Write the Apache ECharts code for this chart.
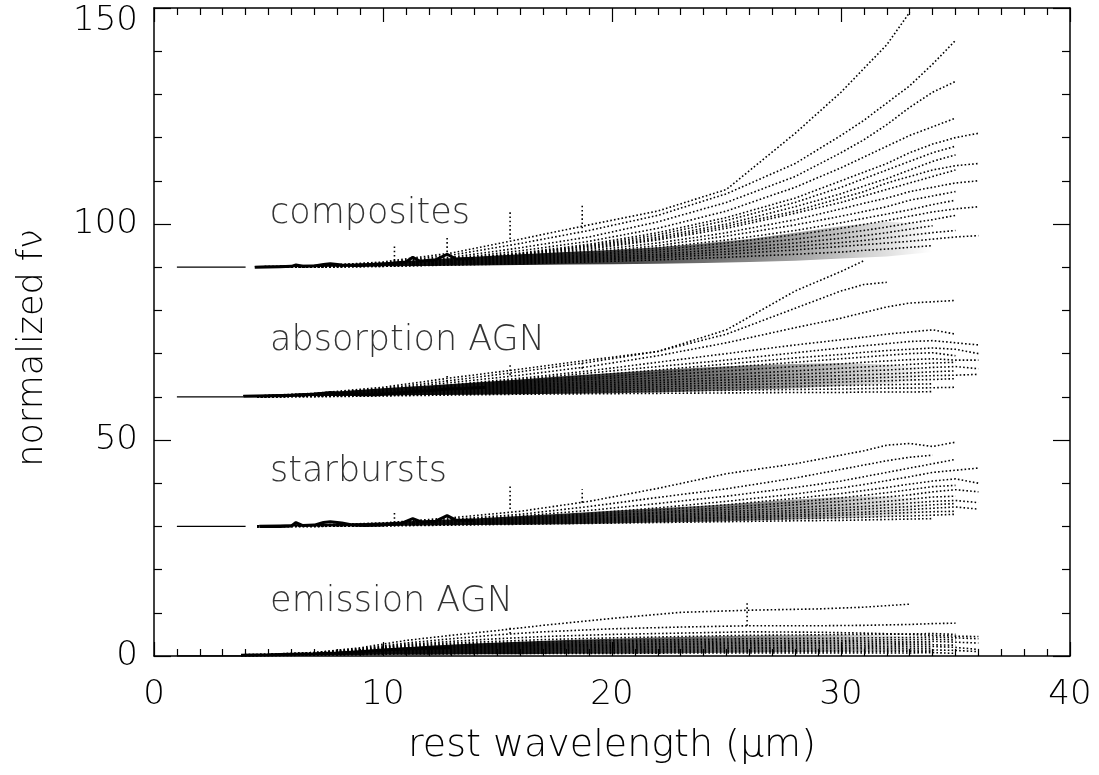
<!DOCTYPE html>
<html><head><meta charset="utf-8">
<script src="https://cdn.jsdelivr.net/npm/echarts@6/dist/echarts.min.js"></script>
<style>html,body{margin:0;padding:0;background:#fff}#c{width:1099px;height:775px}</style>
</head><body><div id="c"></div>
<script>
// ---- tick labels / axes ----
const xTicks = [0, 10, 20, 30, 40];
const yTicks = [0, 50, 100, 150];

// ---- group labels ----
const groupNames = ['composites', 'absorption AGN', 'starbursts', 'emission AGN'];
const groupLabelX = [5.07, 5.07, 5.07, 5.07];
const groupLabelY = [102.3, 72.9, 42.6, 12.6];

// ---- reference offset lines (1 µm to start of spectra) ----
const refLevel = [90, 60, 30, 0];
const refStart = [1.0, 1.0, 1.0, 1.0];
const refEnd = [4.0, 3.9, 4.0, 3.8];

// ---- composites (offset 90) ----
const compWave = [4.5, 7, 10, 13, 16, 19, 22, 25, 28, 30, 31, 32, 33, 34, 35, 36];
const comp = [
  [90.1, 90.3, 91.2, 93.3, 96.5, 99.8, 103.0, 108.0, 121.0, 130.5, 136.0, 141.5, 149.0, null, null, null],
  [90.1, 90.3, 91.0, 92.8, 95.5, 98.5, 102.0, 107.0, 114.0, 120.5, 124.0, 128.0, 132.0, 137.0, 142.5, null],
  [90.0, 90.2, 90.9, 92.3, 94.5, 97.0, 100.5, 105.0, 111.0, 116.5, 119.5, 123.0, 127.0, 130.5, 133.0, null],
  [90.0, 90.2, 90.8, 92.0, 93.8, 96.0, 99.0, 103.0, 108.5, 113.0, 115.5, 118.0, 120.5, 122.5, 124.5, null],
  [90.0, 90.2, 90.7, 91.8, 93.3, 95.3, 98.0, 101.5, 106.0, 110.0, 112.0, 114.0, 116.5, 118.5, 120.0, 121.0],
  [90.0, 90.2, 90.7, 91.7, 93.1, 95.0, 97.5, 100.8, 105.0, 108.5, 110.5, 112.5, 114.5, 116.5, 118.0, null],
  [90.0, 90.2, 90.6, 91.6, 93.0, 94.8, 97.0, 100.0, 104.0, 107.0, 108.8, 110.5, 112.5, 114.5, 116.0, null],
  [90.0, 90.1, 90.6, 91.5, 92.8, 94.5, 96.6, 99.5, 103.0, 106.0, 107.5, 109.5, 111.0, 112.5, 113.5, 114.0],
  [90.0, 90.1, 90.6, 91.4, 92.6, 94.2, 96.3, 99.0, 102.5, 105.0, 106.5, 108.0, 109.5, 111.0, 112.5, null],
  [90.0, 90.1, 90.5, 91.3, 92.4, 93.8, 95.6, 98.0, 101.0, 103.5, 104.8, 106.0, 107.5, 108.5, 109.5, 110.0],
  [90.0, 90.1, 90.5, 91.2, 92.2, 93.4, 95.0, 97.2, 99.8, 101.8, 102.9, 104.0, 105.5, 106.5, 107.5, null],
  [90.0, 90.1, 90.4, 91.1, 92.0, 93.0, 94.5, 96.3, 98.5, 100.3, 101.3, 102.3, 103.3, 104.5, 105.5, null],
  [90.0, 90.1, 90.4, 91.0, 91.8, 92.7, 94.0, 95.6, 97.5, 99.0, 99.9, 100.8, 101.8, 102.8, 103.5, 104.0],
  [90.0, 90.1, 90.3, 90.9, 91.6, 92.4, 93.5, 94.9, 96.5, 97.8, 98.5, 99.3, 100.2, 101.0, 102.0, null],
  [90.0, 90.1, 90.3, 90.8, 91.4, 92.1, 93.0, 94.2, 95.6, 96.7, 97.3, 98.0, 98.8, 99.6, null, null],
  [90.0, 90.0, 90.3, 90.7, 91.2, 91.8, 92.6, 93.6, 94.8, 95.7, 96.2, 96.8, 97.4, 98.0, 98.5, null],
  [90.0, 90.0, 90.2, 90.6, 91.0, 91.5, 92.2, 93.0, 94.0, 94.8, 95.2, 95.6, 96.0, 96.5, 97.0, 97.3],
  [90.0, 90.0, 90.2, 90.5, 90.8, 91.2, 91.7, 92.3, 93.0, 93.5, 93.9, 94.2, 94.6, 95.0, null, null]
];
const compCoreWave = [4.4, 5.5, 6.0, 6.2, 6.5, 7.0, 7.4, 7.7, 8.2, 8.8, 9.5, 10.2, 11.0, 11.3, 11.6, 12.3, 12.8, 13.2, 14.0];
const compCore = [90.0, 90.1, 90.2, 90.5, 90.2, 90.3, 90.6, 90.8, 90.5, 90.4, 90.5, 90.8, 91.2, 92.3, 91.4, 91.7, 93.0, 91.9, 92.0];
const compBandWave = [4.4, 6, 8, 10, 12, 14, 16, 18, 20, 22, 24, 26, 28, 30, 32, 34];
const compBandLow = [90.0, 90.0, 90.1, 90.2, 90.3, 90.4, 90.5, 90.6, 90.7, 90.8, 91.0, 91.2, 91.5, 92.0, 92.5, 93.5];
const compBandHigh = [90.3, 90.5, 90.7, 91.1, 91.8, 92.4, 93.0, 93.5, 94.0, 94.6, 95.5, 96.5, 98.0, 99.5, 100.5, 100.0];

// ---- absorption AGN (offset 60) ----
const absWave = [4.5, 7, 10, 13, 16, 19, 22, 25, 28, 30, 31, 32, 33, 34, 35, 36];
const absAGN = [
  [60.2, 60.8, 62.2, 64.4, 66.4, 68.5, 70.5, 75.5, 84.5, 89.0, 91.5, null, null, null, null, null],
  [60.2, 60.7, 61.9, 63.8, 65.8, 68.0, 70.5, 74.5, 80.5, 84.5, 86.0, 86.5, null, null, null, null],
  [60.1, 60.6, 61.7, 63.3, 65.0, 67.0, 69.5, 72.5, 76.0, 78.2, 79.5, 80.8, 81.7, 82.0, 82.3, null],
  [60.1, 60.5, 61.4, 62.8, 64.3, 66.0, 68.0, 70.0, 72.0, 73.2, 73.8, 74.5, 75.0, 75.5, 74.5, null],
  [60.1, 60.5, 61.3, 62.6, 64.0, 65.5, 67.0, 68.5, 70.2, 71.3, 71.8, 72.3, 72.8, 73.0, 72.5, 72.0],
  [60.1, 60.4, 61.2, 62.4, 63.6, 64.9, 66.2, 67.6, 69.0, 69.8, 70.3, 70.7, 71.0, 71.3, 71.0, 70.0],
  [60.0, 60.4, 61.1, 62.2, 63.3, 64.4, 65.6, 66.8, 68.0, 68.8, 69.2, 69.6, 70.0, 70.2, 69.5, null],
  [60.0, 60.3, 61.0, 62.0, 63.0, 64.0, 65.0, 66.0, 67.0, 67.6, 68.0, 68.3, 68.6, 68.8, 68.5, 68.5],
  [60.0, 60.3, 60.9, 61.8, 62.7, 63.5, 64.4, 65.2, 66.0, 66.6, 66.9, 67.2, 67.5, 67.8, 68.0, null],
  [60.0, 60.3, 60.8, 61.6, 62.4, 63.1, 63.8, 64.5, 65.2, 65.7, 66.0, 66.2, 66.5, 66.8, 67.0, 66.5],
  [60.0, 60.2, 60.7, 61.4, 62.1, 62.7, 63.3, 63.9, 64.5, 64.9, 65.1, 65.3, 65.5, 65.8, 66.0, null],
  [60.0, 60.2, 60.6, 61.2, 61.8, 62.3, 62.8, 63.3, 63.8, 64.1, 64.3, 64.5, 64.7, 64.9, 65.0, 65.2],
  [60.0, 60.2, 60.5, 61.0, 61.5, 61.9, 62.3, 62.7, 63.1, 63.4, 63.6, 63.7, 63.9, 64.0, 64.2, null],
  [60.0, 60.1, 60.4, 60.8, 61.2, 61.5, 61.8, 62.1, 62.4, 62.6, 62.7, 62.8, 62.9, 63.0, null, null],
  [60.0, 60.1, 60.3, 60.6, 60.9, 61.1, 61.3, 61.5, 61.7, 61.8, 61.9, 62.0, 62.0, 62.1, 62.2, null],
  [60.0, 60.0, 60.2, 60.4, 60.6, 60.7, 60.8, 60.9, 61.0, 61.0, 61.1, 61.1, 61.1, 61.2, null, null]
];
const absCoreWave = [3.9, 5.0, 6.0, 7.0, 7.7, 8.3, 9.0, 9.7, 10.5, 11.3, 12.0, 12.8, 13.5, 14.5];
const absCore = [60.1, 60.2, 60.3, 60.6, 61.0, 60.7, 60.5, 60.5, 60.8, 61.2, 61.4, 61.8, 61.9, 62.2];
const absBandWave = [3.9, 6, 8, 10, 12, 14, 16, 18, 20, 22, 24, 26, 28, 30, 32, 34];
const absBandLow = [60.0, 60.1, 60.2, 60.3, 60.4, 60.5, 60.6, 60.7, 60.8, 61.0, 61.3, 61.6, 62.0, 62.5, 63.0, 64.0];
const absBandHigh = [60.4, 60.7, 61.2, 62.0, 62.6, 63.3, 64.0, 64.8, 65.5, 66.2, 66.8, 67.3, 67.6, 67.8, 67.5, 66.5];

// ---- starbursts (offset 30) ----
const sbWave = [4.5, 7, 10, 13, 16, 19, 22, 25, 28, 30, 31, 32, 33, 34, 35, 36];
const starbursts = [
  [30.0, 30.3, 30.8, 32.0, 33.5, 35.8, 38.8, 42.2, 44.5, 46.5, 47.5, 48.8, 49.2, 48.5, 49.5, null],
  [30.0, 30.3, 30.7, 31.6, 32.8, 34.6, 36.7, 38.7, 41.2, 43.2, 44.2, 45.2, 46.0, 46.5, null, null],
  [30.0, 30.2, 30.6, 31.4, 32.4, 33.7, 35.3, 37.0, 39.0, 40.5, 41.5, 42.5, 43.5, 44.5, 45.5, null],
  [30.0, 30.2, 30.5, 31.2, 32.0, 33.0, 34.3, 35.8, 37.5, 38.9, 39.7, 40.6, 41.5, 42.5, 43.0, 43.5],
  [30.0, 30.2, 30.5, 31.1, 31.8, 32.7, 33.8, 35.0, 36.5, 37.6, 38.3, 39.0, 39.8, 40.5, 41.0, 40.0],
  [30.0, 30.2, 30.4, 31.0, 31.6, 32.4, 33.3, 34.4, 35.6, 36.6, 37.2, 37.8, 38.5, 39.2, 39.5, null],
  [30.0, 30.1, 30.4, 30.9, 31.5, 32.2, 33.0, 33.9, 35.0, 35.8, 36.3, 36.8, 37.3, 38.0, 38.5, 38.0],
  [30.0, 30.1, 30.4, 30.8, 31.3, 31.9, 32.6, 33.4, 34.3, 35.0, 35.4, 35.8, 36.3, 36.8, 37.0, null],
  [30.0, 30.1, 30.3, 30.7, 31.2, 31.7, 32.3, 33.0, 33.7, 34.3, 34.6, 35.0, 35.4, 35.8, 36.0, 35.5],
  [30.0, 30.1, 30.3, 30.6, 31.0, 31.5, 32.0, 32.6, 33.2, 33.7, 34.0, 34.3, 34.6, 35.0, 35.3, null],
  [30.0, 30.1, 30.3, 30.6, 30.9, 31.3, 31.7, 32.2, 32.7, 33.1, 33.3, 33.6, 33.9, 34.2, 34.5, 34.0],
  [30.0, 30.0, 30.2, 30.5, 30.8, 31.1, 31.5, 31.9, 32.3, 32.6, 32.8, 33.0, 33.2, 33.4, 33.5, null],
  [30.0, 30.0, 30.2, 30.4, 30.6, 30.9, 31.2, 31.5, 31.8, 32.0, 32.1, 32.3, 32.4, 32.6, 32.8, null],
  [30.0, 30.0, 30.1, 30.3, 30.5, 30.7, 30.9, 31.1, 31.3, 31.4, 31.5, 31.6, 31.7, 31.8, null, null]
];
const sbCoreWave = [4.6, 5.5, 6.0, 6.2, 6.5, 7.0, 7.4, 7.7, 8.2, 8.6, 9.2, 10.0, 10.8, 11.3, 11.7, 12.3, 12.8, 13.2, 14.0];
const sbCore = [30.0, 30.0, 30.1, 30.9, 30.2, 30.3, 30.9, 31.1, 30.8, 30.4, 30.2, 30.3, 30.7, 31.8, 31.0, 31.2, 32.5, 31.4, 31.4];
const sbBandWave = [4.6, 8, 10, 12, 14, 16, 18, 20, 22, 24, 26, 28, 30, 32, 34];
const sbBandLow = [30.0, 30.0, 30.1, 30.2, 30.3, 30.4, 30.5, 30.7, 30.9, 31.1, 31.3, 31.6, 31.9, 32.2, 33.0];
const sbBandHigh = [30.4, 30.6, 30.9, 31.4, 31.8, 32.4, 33.0, 33.6, 34.2, 34.8, 35.5, 36.2, 36.8, 37.0, 36.0];

// ---- emission AGN (offset 0) ----
const emWave = [3.8, 5, 7, 9, 11, 13, 15, 17, 20, 23, 26, 29, 31, 33, 34, 35, 36];
const emAGN = [
  [0.3, 0.4, 0.8, 1.9, 3.6, 4.8, 5.9, 7.1, 8.7, 10.1, 10.6, 10.9, 11.3, 12.0, null, null, null],
  [0.3, 0.4, 0.8, 1.7, 3.0, 4.0, 4.9, 5.6, 6.3, 6.7, 7.0, 7.0, 7.1, 7.3, 7.5, 7.6, null],
  [0.2, 0.3, 0.7, 1.5, 2.7, 3.4, 4.0, 4.5, 5.0, 5.3, 5.6, 5.5, 5.3, 5.0, 4.8, 4.6, 4.5],
  [0.2, 0.3, 0.6, 1.4, 2.5, 3.0, 3.4, 3.8, 4.2, 4.5, 4.8, 4.9, 5.0, 5.1, 5.2, 5.0, null],
  [0.2, 0.3, 0.6, 1.3, 2.3, 2.7, 3.0, 3.3, 3.6, 3.8, 4.0, 4.1, 4.2, 4.3, 4.4, 4.2, 4.0],
  [0.2, 0.3, 0.5, 1.2, 2.1, 2.4, 2.7, 2.9, 3.2, 3.4, 3.5, 3.6, 3.7, 3.8, 3.9, 3.7, null],
  [0.2, 0.3, 0.5, 1.1, 1.9, 2.2, 2.4, 2.6, 2.8, 3.0, 3.1, 3.2, 3.3, 3.3, 3.4, 3.2, 3.0],
  [0.2, 0.2, 0.5, 1.0, 1.7, 2.0, 2.2, 2.4, 2.5, 2.7, 2.8, 2.9, 2.9, 3.0, 3.0, null, null],
  [0.1, 0.2, 0.4, 0.9, 1.5, 1.8, 2.0, 2.1, 2.2, 2.3, 2.4, 2.5, 2.5, 2.6, 2.6, 2.5, null],
  [0.1, 0.2, 0.4, 0.8, 1.3, 1.5, 1.7, 1.8, 1.9, 2.0, 2.0, 2.1, 2.1, 2.2, 2.2, 2.0, 1.5],
  [0.1, 0.2, 0.3, 0.7, 1.1, 1.3, 1.4, 1.5, 1.6, 1.6, 1.7, 1.7, 1.8, 1.8, 1.8, null, null],
  [0.1, 0.1, 0.3, 0.6, 0.9, 1.0, 1.1, 1.2, 1.2, 1.3, 1.3, 1.3, 1.4, 1.4, 1.4, 1.3, 1.0],
  [0.1, 0.1, 0.2, 0.4, 0.7, 0.8, 0.8, 0.9, 0.9, 1.0, 1.0, 1.0, 1.0, 1.1, 1.1, null, null],
  [0.0, 0.1, 0.2, 0.3, 0.5, 0.5, 0.6, 0.6, 0.6, 0.7, 0.7, 0.7, 0.7, 0.7, 0.8, 0.6, null]
];
const emCoreWave = [3.8, 5, 6, 7, 8, 9, 10, 11, 12, 13];
const emCore = [0.2, 0.3, 0.4, 0.5, 0.7, 1.0, 1.4, 1.7, 1.8, 1.9];
const emBandWave = [3.8, 6, 8, 10, 12, 14, 16, 18, 20, 22, 24, 26, 28, 30, 32, 34];
const emBandLow = [0.0, 0.1, 0.2, 0.3, 0.3, 0.4, 0.4, 0.5, 0.5, 0.6, 0.7, 0.8, 0.9, 1.0, 1.0, 1.5];
const emBandHigh = [0.3, 0.5, 0.9, 1.6, 2.4, 2.9, 3.3, 3.7, 4.0, 4.3, 4.5, 4.7, 4.8, 4.9, 4.8, 4.0];

// ---- narrow emission-line spikes: [wavelength, from, to] ----
const spikes = [
  [10.5, 91.5, 95.2], [12.8, 93.5, 97.0], [15.55, 96.5, 103.3], [18.7, 99.0, 104.5],
  [12.8, 63.5, 64.8], [15.55, 65.0, 67.8], [18.7, 66.5, 68.2],
  [10.5, 30.8, 33.3], [15.55, 34.0, 39.6], [18.7, 35.5, 38.6],
  [25.9, 7.0, 12.4], [15.55, 5.2, 6.8]
];

// ---------------------------------------------------------------
const FONT = "'DejaVu Sans', sans-serif";
const TXT = '#000';
const series = [];
const dotted = { color: '#000', width: 1.6, type: [1.6, 2.2] };

function addSpectra(wave, list) {
  list.forEach(vals => {
    const d = [];
    wave.forEach((w, i) => { if (vals[i] !== null) d.push([w, vals[i]]); });
    series.push({ type: 'line', data: d, symbol: 'none', silent: true, lineStyle: dotted, z: 2 });
  });
}
function addCore(wave, vals) {
  series.push({ type: 'line', data: wave.map((w, i) => [w, vals[i]]), symbol: 'none', silent: true,
    lineStyle: { color: '#000', width: 3 }, z: 3 });
}
function addBand(wave, low, high) {
  series.push({
    type: 'custom', coordinateSystem: 'cartesian2d', silent: true, z: 1,
    data: [[wave[0], low[0]]],
    renderItem: (params, api) => {
      const pts = wave.map((w, i) => api.coord([w, high[i]]));
      for (let i = wave.length - 1; i >= 0; i--) pts.push(api.coord([wave[i], low[i]]));
      return { type: 'polygon', shape: { points: pts, smooth: 0 },
        style: { fill: new echarts.graphic.LinearGradient(0, 0, 1, 0, [
          { offset: 0, color: 'rgba(0,0,0,1)' }, { offset: 0.4, color: 'rgba(0,0,0,0.9)' },
          { offset: 0.75, color: 'rgba(0,0,0,0.45)' }, { offset: 1, color: 'rgba(0,0,0,0)' }]) } };
    }
  });
}
addBand(compBandWave, compBandLow, compBandHigh);
addBand(absBandWave, absBandLow, absBandHigh);
addBand(sbBandWave, sbBandLow, sbBandHigh);
addBand(emBandWave, emBandLow, emBandHigh);
addSpectra(compWave, comp);
addSpectra(absWave, absAGN);
addSpectra(sbWave, starbursts);
addSpectra(emWave, emAGN);
addCore(compCoreWave, compCore);
addCore(absCoreWave, absCore);
addCore(sbCoreWave, sbCore);
addCore(emCoreWave, emCore);

spikes.forEach(s => {
  series.push({ type: 'line', data: [[s[0], s[1]], [s[0], s[2]]], symbol: 'none', silent: true,
    lineStyle: { color: '#000', width: 1.6, type: [1.6, 2.6] }, z: 2 });
});
refLevel.forEach((lv, i) => {
  series.push({ type: 'line', data: [[refStart[i], lv], [refEnd[i], lv]], symbol: 'none', silent: true,
    lineStyle: { color: '#000', width: 1.3 }, z: 2 });
});
series.push({
  type: 'scatter', silent: true, symbolSize: 0, z: 5,
  data: groupNames.map((n, i) => [groupLabelX[i], groupLabelY[i], n]),
  label: { show: true, position: 'right', distance: 0, formatter: p => p.data[2],
    fontFamily: FONT, fontSize: 35, fontWeight: 200, color: TXT }
});

const tickCommon = (len, minorLen, split) => ({
  axisLine: { show: true, onZero: false, lineStyle: { color: '#000', width: 1.5 } },
  axisTick: { show: true, inside: true, length: len, lineStyle: { color: '#000', width: 1.2 } },
  minorTick: { show: true, splitNumber: split, length: minorLen, lineStyle: { color: '#000', width: 1.2 } },
  splitLine: { show: false }, minorSplitLine: { show: false }
});

const option = {
  animation: false,
  backgroundColor: '#fff',
  grid: { left: 154, right: 29, top: 8, bottom: 119, containLabel: false },
  xAxis: [
    Object.assign({ type: 'value', min: xTicks[0], max: xTicks[xTicks.length - 1], interval: 10, position: 'bottom',
      name: 'rest wavelength (\u03bcm)', nameLocation: 'middle', nameGap: 71,
      nameTextStyle: { fontFamily: FONT, fontSize: 38, fontWeight: 200, color: TXT },
      axisLabel: { fontFamily: FONT, fontSize: 34, fontWeight: 200, color: TXT, margin: 22 } }, tickCommon(14, 7, 10)),
    Object.assign({ type: 'value', min: xTicks[0], max: xTicks[xTicks.length - 1], interval: 10, position: 'top',
      axisLabel: { show: false } }, tickCommon(14, 7, 10))
  ],
  yAxis: [
    Object.assign({ type: 'value', min: yTicks[0], max: yTicks[yTicks.length - 1], interval: 50, position: 'left',
      name: 'normalized f\u03bd', nameLocation: 'middle', nameGap: 104, nameRotate: 90,
      nameTextStyle: { fontFamily: FONT, fontSize: 35, fontWeight: 200, color: TXT, padding: [0, 32, 0, 0] },
      axisLabel: { fontFamily: FONT, fontSize: 34, fontWeight: 200, color: TXT, margin: 16,
        formatter: v => v === yTicks[yTicks.length - 1] ? '{t|' + v + '}' : '{n|' + v + '}',
        rich: { t: { fontFamily: FONT, fontSize: 34, fontWeight: 200, color: TXT, padding: [26, 0, 0, 0] },
                n: { fontFamily: FONT, fontSize: 34, fontWeight: 200, color: TXT } } } }, tickCommon(17, 8, 5)),
    Object.assign({ type: 'value', min: yTicks[0], max: yTicks[yTicks.length - 1], interval: 50, position: 'right',
      axisLabel: { show: false } }, tickCommon(17, 8, 5))
  ],
  series: series
};
const chart = echarts.init(document.getElementById('c'), null, { renderer: 'canvas' });
chart.setOption(option);
</script></body></html>
